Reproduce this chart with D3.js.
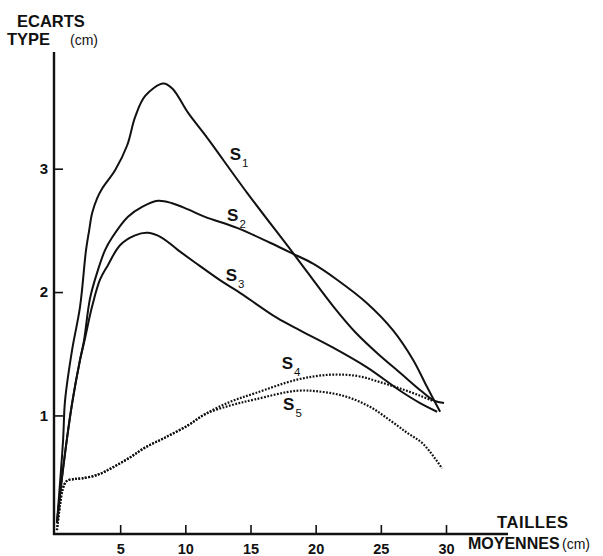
<!DOCTYPE html>
<html>
<head>
<meta charset="utf-8">
<script src="https://cdn.jsdelivr.net/npm/d3@7/dist/d3.min.js"></script>
<style>
  html, body { margin: 0; padding: 0; background: #fff; }
  svg { display: block; }
  text { font-family: "Liberation Sans", Arial, Helvetica, sans-serif; fill: #111; }
</style>
</head>
<body>
<svg id="chart" width="603" height="556"></svg>
<script>
// Standard deviation of length (cm) against mean length (cm) for five series.
const xTicks = [5, 10, 15, 20, 25, 30];
const yTicks = [1, 2, 3];

const s1X = [0.15, 0.62, 0.77, 1.31, 1.92, 2.38, 2.62, 2.85, 3.23, 3.62, 4.62, 5.54, 6.15, 6.92, 8.31, 9.0, 10.23, 11.54, 14.77, 18.31, 21.38, 23.08, 24.77, 26.54, 28.08, 29.08, 29.85];
const s1Y = [0.13, 0.80, 1.12, 1.53, 1.88, 2.34, 2.50, 2.64, 2.76, 2.84, 2.99, 3.19, 3.42, 3.59, 3.69, 3.65, 3.45, 3.27, 2.80, 2.31, 1.88, 1.67, 1.50, 1.34, 1.20, 1.12, 1.10];

const s2X = [0.15, 0.61, 1.30, 1.92, 2.23, 2.69, 3.30, 3.84, 4.37, 5.60, 6.68, 7.90, 8.98, 10.21, 11.51, 13.97, 16.50, 18.27, 19.80, 21.64, 23.94, 25.94, 27.48, 28.55, 29.55];
const s2Y = [0.13, 0.56, 1.09, 1.45, 1.61, 1.95, 2.18, 2.34, 2.44, 2.61, 2.69, 2.74, 2.72, 2.67, 2.61, 2.52, 2.40, 2.31, 2.23, 2.10, 1.91, 1.69, 1.45, 1.23, 1.03];

const s3X = [0.15, 0.61, 1.30, 1.92, 2.23, 2.84, 3.45, 4.07, 4.99, 6.14, 7.14, 8.21, 9.44, 10.74, 12.89, 13.97, 17.04, 18.80, 21.34, 23.94, 26.48, 28.01, 29.32];
const s3Y = [0.13, 0.56, 1.09, 1.45, 1.59, 1.88, 2.10, 2.22, 2.38, 2.46, 2.48, 2.44, 2.34, 2.24, 2.08, 2.01, 1.79, 1.69, 1.55, 1.39, 1.20, 1.10, 1.03];

const s4X = [0.15, 0.38, 0.61, 0.92, 1.53, 2.07, 3.30, 4.45, 5.76, 6.91, 8.44, 10.21, 11.51, 13.43, 15.35, 18.57, 21.11, 23.18, 24.94, 26.71, 28.01, 28.93];
const s4Y = [0.07, 0.27, 0.41, 0.47, 0.485, 0.49, 0.52, 0.58, 0.66, 0.74, 0.82, 0.92, 1.01, 1.11, 1.18, 1.29, 1.33, 1.32, 1.27, 1.21, 1.16, 1.12];

const s5X = [0.15, 0.38, 0.61, 0.92, 1.53, 2.07, 3.30, 4.45, 5.76, 6.91, 8.44, 10.21, 11.51, 13.43, 15.35, 18.57, 20.57, 22.41, 24.17, 25.71, 27.01, 28.24, 29.70];
const s5Y = [0.07, 0.27, 0.41, 0.47, 0.485, 0.49, 0.52, 0.58, 0.66, 0.74, 0.82, 0.92, 1.01, 1.08, 1.13, 1.20, 1.19, 1.15, 1.07, 0.96, 0.86, 0.77, 0.57];

const seriesNames = ["1", "2", "3", "4", "5"];
const seriesDotted = [false, false, false, true, true];
// label anchor in data units (x, y of the letter's baseline)
const labelX = [13.4, 13.2, 13.1, 17.4, 17.5];
const labelY = [3.07, 2.58, 2.09, 1.38, 1.04];

const series = [
  { name: seriesNames[0], xs: s1X, ys: s1Y },
  { name: seriesNames[1], xs: s2X, ys: s2Y },
  { name: seriesNames[2], xs: s3X, ys: s3Y },
  { name: seriesNames[3], xs: s4X, ys: s4Y },
  { name: seriesNames[4], xs: s5X, ys: s5Y }
].map((s, i) => ({
  ...s,
  dotted: seriesDotted[i],
  lx: labelX[i],
  ly: labelY[i],
  points: s.xs.map((x, j) => [x, s.ys[j]])
}));

const svg = d3.select("#chart");

const x = d3.scaleLinear().domain([0, 30]).range([55, 446]);
const y = d3.scaleLinear().domain([0, 3]).range([538.8, 168.7]);

const axisY0 = 534;   // baseline of the horizontal axis
const axisX0 = 54;    // position of the vertical axis

// Axis lines
svg.append("line")
  .attr("x1", axisX0).attr("x2", axisX0)
  .attr("y1", 52).attr("y2", axisY0 + 1)
  .attr("stroke", "#111").attr("stroke-width", 2.4);
svg.append("line")
  .attr("x1", axisX0 - 1).attr("x2", 508)
  .attr("y1", axisY0).attr("y2", axisY0)
  .attr("stroke", "#111").attr("stroke-width", 2.4);

// Y axis ticks (pointing inward)
const gy = svg.append("g")
  .attr("transform", `translate(${axisX0},0)`)
  .call(d3.axisLeft(y).tickValues(yTicks).tickFormat(d3.format("d"))
    .tickSizeInner(-9).tickSizeOuter(0).tickPadding(6));
gy.select(".domain").remove();
gy.selectAll(".tick line").attr("stroke", "#111").attr("stroke-width", 1.6);
gy.selectAll(".tick text")
  .attr("font-size", 15).attr("font-weight", "bold")
  .style("font-family", "'Liberation Sans', Arial, sans-serif").attr("fill", "#111");

// X axis ticks (pointing up)
const gx = svg.append("g")
  .attr("transform", `translate(0,${axisY0})`)
  .call(d3.axisBottom(x).tickValues(xTicks).tickFormat(d3.format("d"))
    .tickSizeInner(-9).tickSizeOuter(0).tickPadding(9.5));
gx.select(".domain").remove();
gx.selectAll(".tick line").attr("stroke", "#111").attr("stroke-width", 1.6);
gx.selectAll(".tick text")
  .attr("font-size", 14.5).attr("font-weight", "bold")
  .style("font-family", "'Liberation Sans', Arial, sans-serif").attr("fill", "#111");

// Axis titles
const titleY = svg.append("g");
titleY.append("text").attr("x", 17).attr("y", 27)
  .attr("font-size", 16.5).attr("font-weight", "bold").text("ECARTS");
titleY.append("text").attr("x", 7).attr("y", 45)
  .attr("font-size", 16.5).attr("font-weight", "bold").text("TYPE");
titleY.append("text").attr("x", 70).attr("y", 45)
  .attr("font-size", 14).text("(cm)");

const titleX = svg.append("g");
titleX.append("text").attr("x", 497).attr("y", 528)
  .attr("font-size", 16.5).attr("font-weight", "bold").attr("letter-spacing", 0.6).text("TAILLES");
titleX.append("text").attr("x", 468).attr("y", 549)
  .attr("font-size", 16).attr("font-weight", "bold").text("MOYENNES");
titleX.append("text").attr("x", 562).attr("y", 549)
  .attr("font-size", 14).text("(cm)");

// Curves
const line = d3.line()
  .x(d => x(d[0]))
  .y(d => y(d[1]))
  .curve(d3.curveCatmullRom.alpha(0.5));

svg.append("g").selectAll("path")
  .data(series)
  .join("path")
  .attr("d", d => line(d.points))
  .attr("fill", "none")
  .attr("stroke", "#111")
  .attr("stroke-width", d => d.dotted ? 2.2 : 2)
  .attr("stroke-dasharray", d => d.dotted ? "1.8,1.5" : null)
  .attr("stroke-linejoin", "round");

// Curve labels: S with subscript index
const labels = svg.append("g").selectAll("text")
  .data(series)
  .join("text")
  .attr("x", d => x(d.lx))
  .attr("y", d => y(d.ly))
  .attr("font-size", 17)
  .attr("font-weight", "bold");
labels.append("tspan").text("S");
labels.append("tspan")
  .attr("font-size", 11.5)
  .attr("font-weight", "normal")
  .attr("dx", 1)
  .attr("dy", 7)
  .text(d => d.name);
</script>
</body>
</html>
